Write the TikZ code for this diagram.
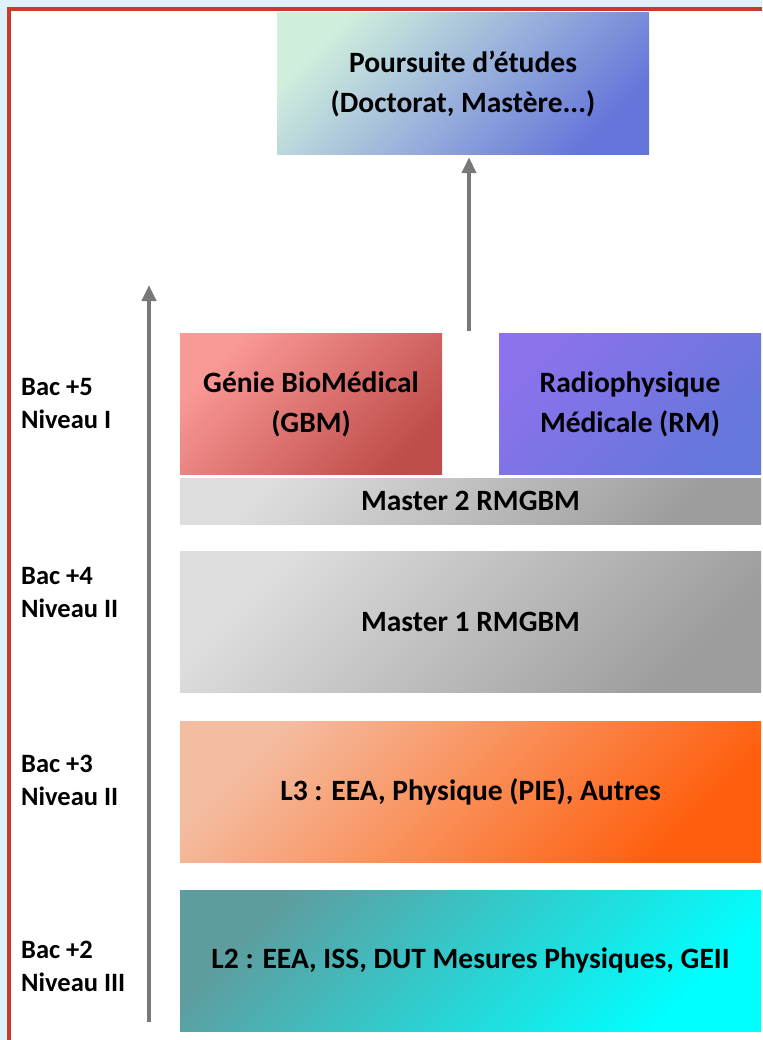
\documentclass[tikz,border=0pt]{standalone}
\usepackage{fontspec}
\setmainfont{Carlito}
\usetikzlibrary{arrows.meta,positioning}
\definecolor{pageblue}{HTML}{DFF1FD}
\definecolor{framered}{HTML}{C83B2A}
\definecolor{axisgray}{HTML}{787878}
\definecolor{poursA}{HTML}{CFEEDC}
\definecolor{poursB}{HTML}{6576DA}
\definecolor{gbmA}{HTML}{FA9A97}
\definecolor{gbmB}{HTML}{BF4D4B}
\definecolor{rmA}{HTML}{8B72EC}
\definecolor{rmB}{HTML}{6477DA}
\definecolor{greyA}{HTML}{DEDEDE}
\definecolor{greyB}{HTML}{9D9D9D}
\definecolor{lthreeA}{HTML}{F4BCA0}
\definecolor{lthreeB}{HTML}{FF5E0C}
\definecolor{ltwoA}{HTML}{5F9C9E}
\definecolor{ltwoB}{HTML}{00FFFF}

\begin{document}
\begin{tikzpicture}[x=1pt, y=-1pt,
    box/.style 2 args={top color=#1, bottom color=#2, shading angle=45,
        inner sep=0pt, align=center, font=\fontsize{29.5}{40}\selectfont\bfseries},
    wide/.style={minimum width=581pt, minimum height=141pt},
    half/.style={minimum width=262pt, minimum height=141pt},
    level/.style={anchor=west, inner sep=0pt, align=left,
        font=\fontsize{26.5}{33}\selectfont\bfseries},
    axis/.style={draw=axisgray, line width=4pt, -{Triangle[width=14pt,length=16pt]}}]
    \useasboundingbox (0,0) rectangle (762,1040);
    \fill[pageblue] (0,0) rectangle (762,1040);
    \fill[white] (9,9) rectangle (762,1040);
    \draw[framered, line width=3.4pt] (9,1040) -- (9,9) -- (762,9);

    \node[box={poursA}{poursB}, minimum width=372pt, minimum height=142pt] (pours) at (463,84)
        {Poursuite d’études\\(Doctorat, Mastère...)};

    \node[box={greyA}{greyB}, minimum width=581pt, minimum height=46pt] (m2) at (470.5,501)
        {Master 2 RMGBM};
    \node[box={greyA}{greyB}, wide, below=27pt of m2] (m1) {Master 1 RMGBM};
    \node[box={lthreeA}{lthreeB}, wide, below=29pt of m1] (l3) {L3 : EEA, Physique (PIE), Autres};
    \node[box={ltwoA}{ltwoB}, wide, below=27pt of l3] (l2) {L2 : EEA, ISS, DUT Mesures Physiques, GEII};

    \node[box={gbmA}{gbmB}, half, anchor=south west] (gbm) at ([yshift=3pt]m2.north west)
        {Génie BioMédical\\(GBM)};
    \node[box={rmA}{rmB}, half, anchor=south east] (rm) at ([yshift=3pt]m2.north east)
        {Radiophysique\\Médicale (RM)};

    \node[level] (bac5) at (21,404) {Bac +5\\Niveau I};
    \node[level] (bac4) at (21,592.5) {Bac +4\\Niveau II};
    \node[level] (bac3) at (21,780.5) {Bac +3\\Niveau II};
    \node[level] (bac2) at (21,966.5) {Bac +2\\Niveau III};

    \coordinate (axbot) at (149,1022);
    \coordinate (axtop) at (149,285);
    \draw[axis] (axbot) -- (axtop);

    \coordinate (gap) at (469,331);
    \draw[axis, shorten >=2pt] (gap) -- (gap |- pours.south);
\end{tikzpicture}
\end{document}
